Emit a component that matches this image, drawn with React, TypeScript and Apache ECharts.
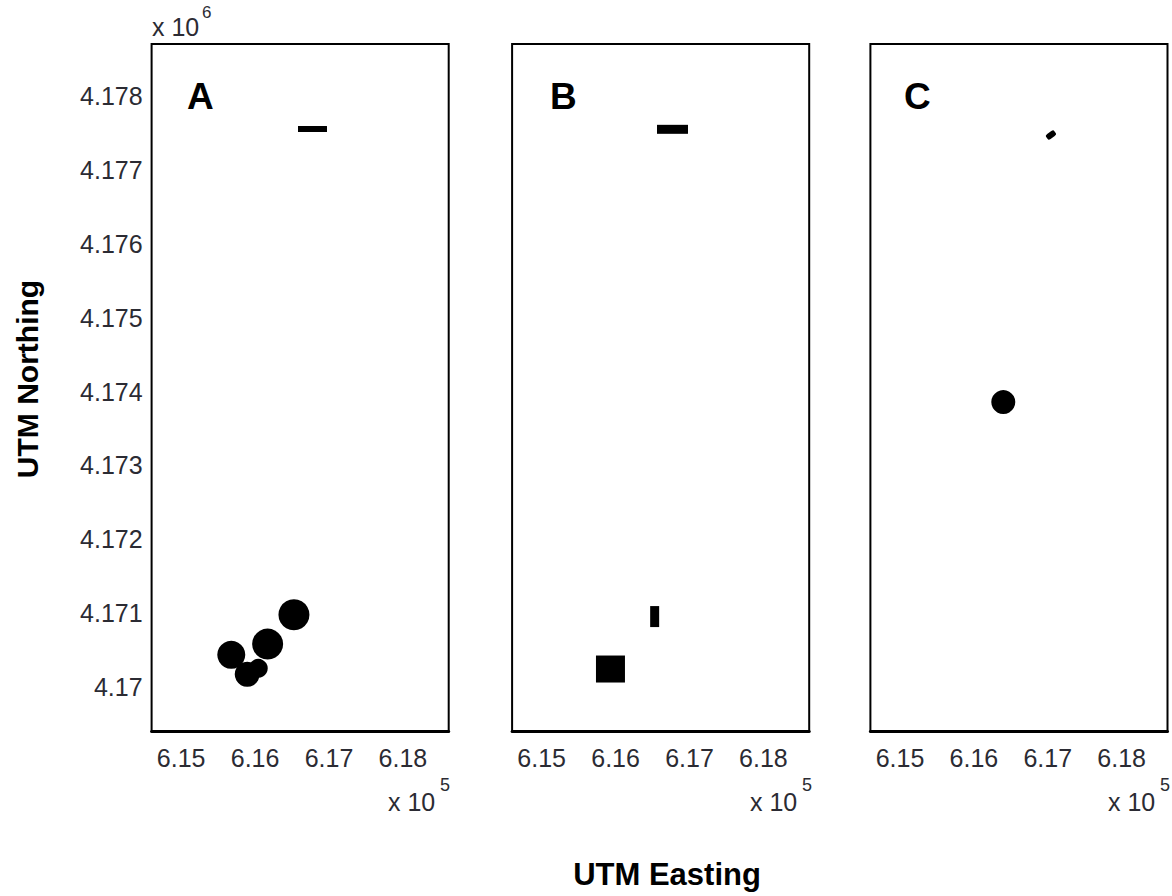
import React, { useEffect, useRef } from "react";
import * as echarts from "echarts";

// Axis extents (metres, UTM)
const X_MIN = 614600;
const X_MAX = 618620;
const Y_MIN = 4169405;
const Y_MAX = 4178705;

const panelNames = ["A", "B", "C"];

// Panel A
const aCircleX = [616526, 616170, 615678, 615894, 616043];
const aCircleY = [4170979, 4170582, 4170437, 4170172, 4170253];
const aDashX = [616777];
const aDashY = [4177554];

// Panel B
const bDashX = [616770];
const bDashY = [4177550];
const bBarX = [616529];
const bBarY = [4170954];
const bSquareX = [615931];
const bSquareY = [4170244];

// Panel C
const cBlobX = [617043];
const cBlobY = [4177473];
const cCircleX = [616398];
const cCircleY = [4173858];

// marker sizes (style)
const aCircleSizes = [31, 31, 28, 25, 19];

const pts = (xs: number[], ys: number[]) => xs.map((v, i) => [v, ys[i]]);

const FONT = "'Liberation Sans', Arial, sans-serif";
const gridLefts = [151.6, 512.1, 870.4];
const GRID_W = 297.1;
const GRID_TOP = 44;
const GRID_H = 687;

export default function App() {
  const ref = useRef<HTMLDivElement>(null);
  useEffect(() => {
    if (!ref.current) return;
    const chart = echarts.init(ref.current, undefined, { renderer: "svg" });

    const grids = gridLefts.map((l) => ({
      left: l,
      top: GRID_TOP,
      width: GRID_W,
      height: GRID_H,
      show: true,
      borderColor: "#000",
      borderWidth: 2,
      backgroundColor: "#fff",
      containLabel: false,
    }));

    const xAxes = gridLefts.map((_, i) => ({
      type: "value",
      gridIndex: i,
      min: X_MIN,
      max: X_MAX,
      minInterval: 1000,
      maxInterval: 1000,
      axisLine: { show: true, onZero: false, lineStyle: { color: "#000", width: 3 } },
      axisTick: { show: false },
      splitLine: { show: false },
      axisLabel: {
        show: true,
        showMinLabel: false,
        showMaxLabel: false,
        fontSize: 25,
        fontFamily: FONT,
        color: "#2b2b33",
        margin: 14,
        formatter: (v: number) => (Math.round(v) % 1000 === 0 ? (v / 1e5).toFixed(2) : ""),
      },
    }));

    const yAxes = gridLefts.map((_, i) => ({
      type: "value",
      gridIndex: i,
      min: Y_MIN,
      max: Y_MAX,
      minInterval: 1000,
      maxInterval: 1000,
      axisLine: { show: false },
      axisTick: { show: false },
      splitLine: { show: false },
      axisLabel: {
        show: i === 0,
        showMinLabel: false,
        showMaxLabel: false,
        fontSize: 25,
        fontFamily: FONT,
        color: "#2b2b33",
        margin: 9,
        formatter: (v: number) =>
          Math.round(v) % 1000 === 0 ? String(Number((v / 1e6).toFixed(3))) : "",
      },
    }));

    const black = { color: "#000", opacity: 1 };
    const series: any[] = [
      {
        type: "scatter",
        xAxisIndex: 0,
        yAxisIndex: 0,
        symbol: "circle",
        data: pts(aCircleX, aCircleY).map((p, i) => ({ value: p, symbolSize: aCircleSizes[i] })),
        itemStyle: black,
      },
      {
        type: "scatter",
        xAxisIndex: 0,
        yAxisIndex: 0,
        symbol: "rect",
        symbolSize: [29, 6],
        data: pts(aDashX, aDashY),
        itemStyle: black,
      },
      {
        type: "scatter",
        xAxisIndex: 1,
        yAxisIndex: 1,
        symbol: "rect",
        symbolSize: [31, 9],
        data: pts(bDashX, bDashY),
        itemStyle: black,
      },
      {
        type: "scatter",
        xAxisIndex: 1,
        yAxisIndex: 1,
        symbol: "rect",
        symbolSize: [9, 21],
        data: pts(bBarX, bBarY),
        itemStyle: black,
      },
      {
        type: "scatter",
        xAxisIndex: 1,
        yAxisIndex: 1,
        symbol: "rect",
        symbolSize: [29, 27],
        data: pts(bSquareX, bSquareY),
        itemStyle: black,
      },
      {
        type: "scatter",
        xAxisIndex: 2,
        yAxisIndex: 2,
        symbol: "roundRect",
        symbolSize: [10, 6],
        symbolRotate: 35,
        data: pts(cBlobX, cBlobY),
        itemStyle: black,
      },
      {
        type: "scatter",
        xAxisIndex: 2,
        yAxisIndex: 2,
        symbol: "circle",
        symbolSize: 24,
        data: pts(cCircleX, cCircleY),
        itemStyle: black,
      },
    ];

    const texts: any[] = [];
    // exponent label for y axis
    texts.push({
      type: "text",
      left: 152,
      top: 14,
      style: { text: "x 10", fontSize: 25, fontFamily: FONT, fill: "#2b2b33" },
    });
    texts.push({
      type: "text",
      left: 202,
      top: 4,
      style: { text: "6", fontSize: 17, fontFamily: FONT, fill: "#2b2b33" },
    });
    const expX = [388, 750, 1108];
    expX.forEach((x) => {
      texts.push({
        type: "text",
        left: x,
        top: 789,
        style: { text: "x 10", fontSize: 25, fontFamily: FONT, fill: "#2b2b33" },
      });
      texts.push({
        type: "text",
        left: x + 52,
        top: 776,
        style: { text: "5", fontSize: 18, fontFamily: FONT, fill: "#2b2b33" },
      });
    });
    const letterX = [187, 550, 904];
    panelNames.forEach((n, i) => {
      texts.push({
        type: "text",
        left: letterX[i],
        top: 78,
        style: { text: n, fontSize: 37, fontWeight: "bold", fontFamily: FONT, fill: "#000" },
      });
    });
    texts.push({
      type: "text",
      x: 667,
      y: 874,
      style: {
        text: "UTM Easting",
        fontSize: 31,
        fontWeight: "bold",
        fontFamily: FONT,
        fill: "#000",
        align: "center",
        verticalAlign: "middle",
      },
    });
    texts.push({
      type: "text",
      x: 27,
      y: 379,
      rotation: Math.PI / 2,
      style: {
        text: "UTM Northing",
        fontSize: 30,
        fontWeight: "bold",
        fontFamily: FONT,
        fill: "#000",
        align: "center",
        verticalAlign: "middle",
      },
    });

    chart.setOption({
      animation: false,
      backgroundColor: "#fff",
      grid: grids,
      xAxis: xAxes,
      yAxis: yAxes,
      series,
      graphic: texts,
    });
    return () => chart.dispose();
  }, []);

  return (
    <div
      ref={ref}
      style={{ position: "absolute", left: 0, top: 0, width: 1172, height: 896 }}
    />
  );
}
